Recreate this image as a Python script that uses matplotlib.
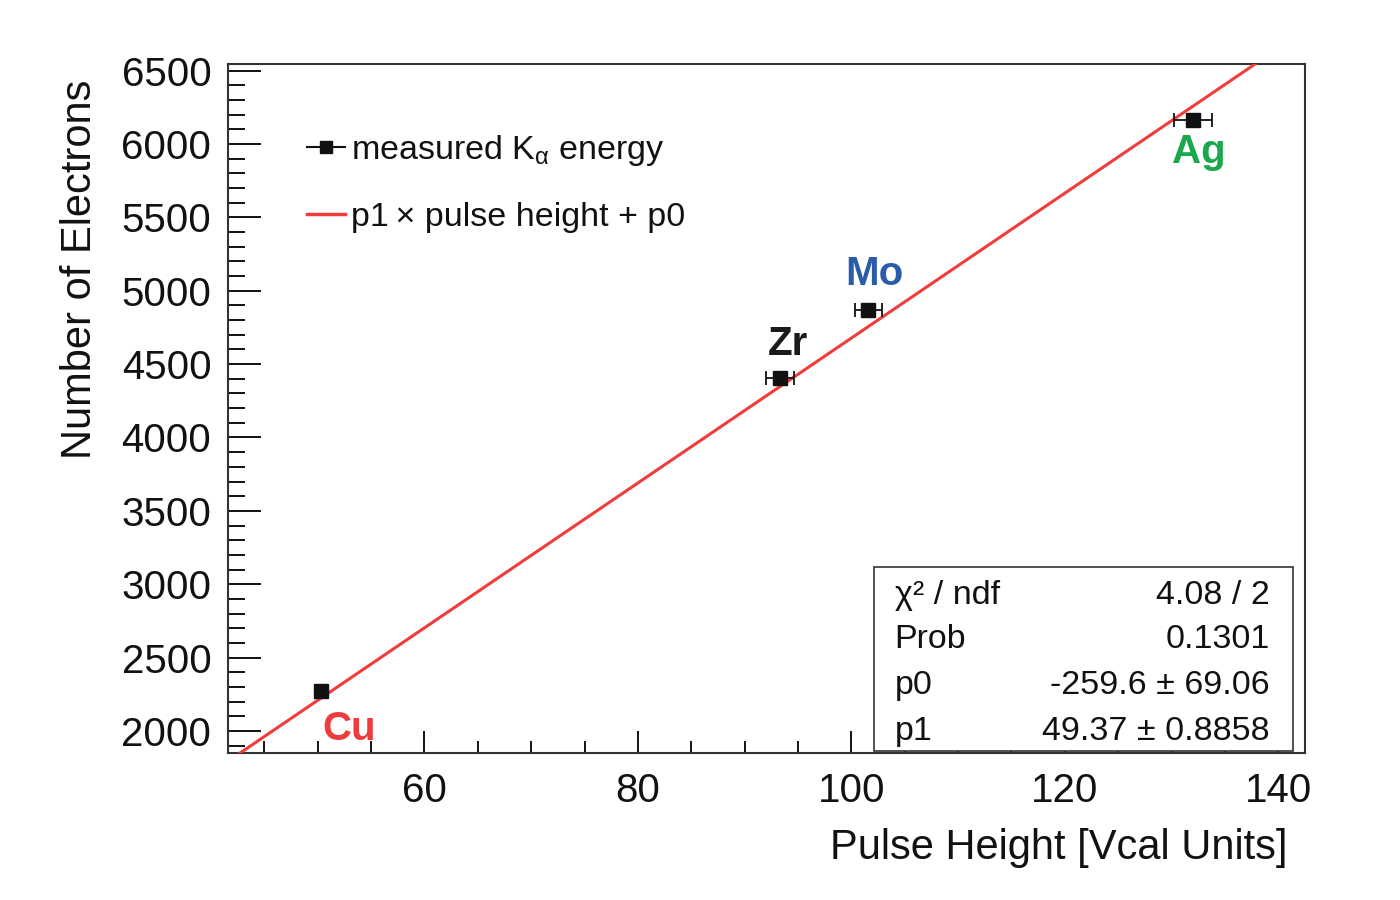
import matplotlib
matplotlib.use("Agg")
import matplotlib.pyplot as plt
import numpy as np
from matplotlib.lines import Line2D
from matplotlib.patches import Rectangle
from matplotlib.ticker import MultipleLocator

plt.rcParams['font.family'] = ['Liberation Sans', 'DejaVu Sans']
plt.rcParams['mathtext.fontset'] = 'custom'
plt.rcParams['mathtext.rm'] = 'Liberation Sans'
plt.rcParams['mathtext.it'] = 'Liberation Sans'

# ---- data ----
elements = ["Cu", "Zr", "Mo", "Ag"]
pulse_height = [50.3, 93.35, 101.6, 132.0]
pulse_err = [0.0, 1.3, 1.3, 1.8]
electrons = [2270, 4408, 4872, 6166]
label_colors = ["#ee3b3b", "#1a1a1a", "#2a5caa", "#19a84c"]
label_offsets_px = [(28, -49), (7, 23), (6, 25), (6, -43)]

p0 = -259.6
p0_err = 69.06
p1 = 49.37
p1_err = 0.8858
chi2 = 4.08
ndf = 2
prob = 0.1301

xlim = (41.6, 142.5)
ylim = (1850, 6545)

fig = plt.figure(figsize=(14, 9), dpi=100)
ax = fig.add_axes([228/1400, 1 - 753/900, (1305-228)/1400, (753-64)/900])

# fit line
xf = np.linspace(xlim[0], xlim[1], 400)
fit_line, = ax.plot(xf, p1 * xf + p0, color="#f03c3c", lw=2.2, zorder=3)

# data points
ax.errorbar(pulse_height, electrons, xerr=pulse_err, fmt='s', color='#111111',
            ms=10.5, elinewidth=1.3, capsize=5, capthick=1.3, zorder=4)

for x, y, name, c, off in zip(pulse_height, electrons, elements, label_colors, label_offsets_px):
    ax.annotate(name, (x, y), xytext=off, textcoords='offset pixels',
                ha='center', va='baseline', fontsize=29, fontweight='bold', color=c, zorder=5)

ax.set_xlim(*xlim)
ax.set_ylim(*ylim)

ax.xaxis.set_major_locator(MultipleLocator(20))
ax.xaxis.set_minor_locator(MultipleLocator(5))
ax.yaxis.set_major_locator(MultipleLocator(500))
ax.yaxis.set_minor_locator(MultipleLocator(100))
ax.tick_params(axis='both', which='both', direction='in', top=False, right=False,
               colors='#111111', width=1.4, labelsize=29)
ax.tick_params(axis='y', which='major', length=24, pad=12)
ax.tick_params(axis='y', which='minor', length=12)
ax.tick_params(axis='x', which='major', length=16, pad=14)
ax.tick_params(axis='x', which='minor', length=9)
for s in ax.spines.values():
    s.set_linewidth(1.5)
    s.set_color('#333333')

ax.set_xlabel("Pulse Height [Vcal Units]", fontsize=30, loc='right', color='#111111')
ax.xaxis.set_label_coords(0.984, -0.138)
ax.xaxis.label.set_va('center')
ax.set_ylabel("Number of Electrons", fontsize=30, loc='top', color='#111111')
ax.yaxis.set_label_coords(-0.137, 0.977)
ax.yaxis.label.set_va('center')

# legend
h_data = Line2D([], [], color='#111111', marker='s', ms=9, lw=1.5)
h_fit = Line2D([], [], color='#f03c3c', lw=2.5)
leg = ax.legend([h_data, h_fit],
                [r"measured K$_{\alpha}$ energy", "p1\u2009\u00d7 pulse height + p0"],
                loc='upper left', bbox_to_anchor=(0.0735, 0.90), frameon=False,
                fontsize=24.5, handlelength=1.1, handletextpad=0.2, labelspacing=1.0,
                borderpad=0, borderaxespad=0)
for t in leg.get_texts():
    t.set_color('#111111')

# stats box
ax.add_patch(Rectangle((0.5998, 0.003), 0.3891, 0.267, transform=ax.transAxes,
                       fill=True, facecolor='white', edgecolor='#333333', lw=1.2, zorder=6))
stat_left = ["\u03c7\u00b2 / ndf", "Prob", "p0", "p1"]
stat_right = [f"{chi2:.2f} / {ndf}", f"{prob:.4f}",
              f"{p0:.1f} \u00b1 {p0_err:.2f}", f"{p1:.2f} \u00b1 {p1_err:.4f}"]
baselines_px = [604, 648, 694, 740]
for l, r, b in zip(stat_left, stat_right, baselines_px):
    yy = (753 - b) / 689
    ax.text(0.619, yy, l, transform=ax.transAxes, fontsize=24.5, ha='left', va='baseline',
            color='#111111', zorder=7)
    ax.text(0.9675, yy, r, transform=ax.transAxes, fontsize=24.5, ha='right', va='baseline',
            color='#111111', zorder=7)

fig.savefig("out.png", dpi=100)
